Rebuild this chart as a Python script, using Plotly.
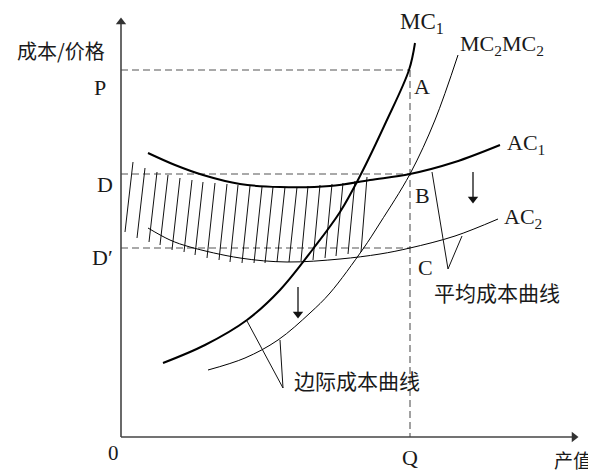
import plotly.graph_objects as go

# ---- data (units measured from the origin; x = output, y = cost/price) ----
Q_VAL = 289
P_VAL = 367
D_VAL = 263
D2_VAL = 189

mc1_x = [42, 84, 126, 159, 192, 219, 239, 265, 288, 294]
mc1_y = [74, 92, 117, 147, 188, 225, 261, 315, 367, 394]

mc2_x = [87, 124, 157, 189, 209, 242, 259, 289, 314, 337]
mc2_y = [67, 79, 97, 124, 144, 188, 214, 263, 317, 382]

ac1_x = [27, 54, 82, 119, 159, 209, 249, 289, 334, 379]
ac1_y = [284, 272, 262, 253, 250, 251, 257, 263, 275, 292]

ac2_x = [27, 49, 69, 119, 166, 219, 259, 289, 334, 377]
ac2_y = [209, 197, 190, 179, 175, 178, 183, 189, 201, 218]

hatch_top_x = [12, 24, 36, 47, 59, 71, 82, 94, 106, 117, 129, 141, 152, 164, 176, 187, 199, 211, 222, 234, 246]
hatch_top_y = [275, 269, 265, 262, 259, 257, 255, 254, 253, 252, 251, 250, 250, 250, 250, 251, 252, 253, 254, 256, 260]
hatch_bot_x = [4, 16, 28, 39, 51, 63, 74, 86, 98, 109, 121, 133, 144, 156, 168, 180, 192, 204, 215, 227, 240]
hatch_bot_y = [205, 199, 195, 192, 187, 185, 182, 179, 177, 175, 174, 174, 174, 175, 175, 176, 177, 179, 181, 183, 185]

avg_pointer_x = [311, 327, 341]
avg_pointer_y = [265, 168, 201]
mar_pointer_x = [126, 162, 159]
mar_pointer_y = [116, 49, 97]

ac_shift_x = 352
ac_shift_y = [265, 234]
mc_shift_x = 177
mc_shift_y = [150, 119]

X_MAX = 457
Y_MAX = 419

SERIF = "Liberation Serif"
CJK = "Noto Sans CJK SC"
INK = "#1a1a1a"

fig = go.Figure()

def line(xs, ys, width, color="black", dash=None, shape="linear"):
    fig.add_trace(go.Scatter(
        x=xs, y=ys, mode="lines", hoverinfo="skip", showlegend=False,
        line=dict(color=color, width=width, dash=dash, shape=shape)))

def head(x, y, symbol, size, color):
    fig.add_trace(go.Scatter(
        x=[x], y=[y], mode="markers", hoverinfo="skip", showlegend=False,
        marker=dict(symbol=symbol, size=size, color=color, line=dict(width=0))))

# dashed guides
DASH = "7px,4px"
line([0, Q_VAL], [P_VAL, P_VAL], 1.1, "#555555", DASH)
line([Q_VAL, Q_VAL], [P_VAL, 0], 1.1, "#555555", DASH)
line([0, Q_VAL], [D_VAL, D_VAL], 1.1, "#555555", DASH)
line([0, Q_VAL], [D2_VAL, D2_VAL], 1.1, "#555555", DASH)

# hatching
hx, hy = [], []
for tx, ty, bx, by in zip(hatch_top_x, hatch_top_y, hatch_bot_x, hatch_bot_y):
    hx += [tx, bx, None]
    hy += [ty, by, None]
line(hx, hy, 1.0, "#111111")

# curves
line(mc1_x, mc1_y, 2.0, "black", shape="spline")
line(mc2_x, mc2_y, 1.0, "black", shape="spline")
line(ac1_x, ac1_y, 2.0, "black", shape="spline")
line(ac2_x, ac2_y, 1.0, "black", shape="spline")

# pointer lines
line(avg_pointer_x, avg_pointer_y, 1.0, "#111111")
line(mar_pointer_x, mar_pointer_y, 1.0, "#111111")

# axes with arrow heads
line([0, 0], [0, Y_MAX - 6], 1.6, "#444444")
line([0, X_MAX - 6], [0, 0], 1.6, "#444444")
head(0, Y_MAX - 4, "triangle-up", 9, "#333333")
head(X_MAX - 4, 0, "triangle-right", 9, "#333333")

# shift arrows
line([ac_shift_x, ac_shift_x], [ac_shift_y[0], ac_shift_y[1] + 6], 1.3, "#111111")
head(ac_shift_x, ac_shift_y[1] + 4, "triangle-down", 9, "#111111")
line([mc_shift_x, mc_shift_x], [mc_shift_y[0], mc_shift_y[1] + 6], 1.3, "#111111")
head(mc_shift_x, mc_shift_y[1] + 4, "triangle-down", 9, "#111111")

ann = []

def text(x, y, s, size, family=SERIF, xanchor="center"):
    ann.append(dict(x=x, y=y, xref="x", yref="y", text=s, showarrow=False,
                    xanchor=xanchor, yanchor="middle",
                    font=dict(family=family, size=size, color=INK)))

text(-60, 387, "成本/价格", 20, CJK)
text(-21, 350, "P", 22)
text(-16, 253, "D", 22)
text(-19, 180, "D′", 22)
text(-8, -16, "0", 21)
text(289, -20, "Q", 22)
text(452, -22, "产值", 19, CJK)
text(277, 414, "MC<sub>1</sub>", 23, xanchor="left")
text(337, 392, "MC<sub>2</sub>MC<sub>2</sub>", 22, xanchor="left")
text(301, 351, "A", 22)
text(301, 242, "B", 22)
text(304, 170, "C", 22)
text(384, 293, "AC<sub>1</sub>", 22, xanchor="left")
text(381, 219, "AC<sub>2</sub>", 22, xanchor="left")
text(311, 145, "平均成本曲线", 21, CJK, xanchor="left")
text(171, 57, "边际成本曲线", 21, CJK, xanchor="left")

# The page body has an 8px margin, so the figure is 8px smaller than the window
fig.update_layout(
    width=588, height=464, autosize=False,
    margin=dict(l=0, r=0, t=0, b=0),
    paper_bgcolor="white", plot_bgcolor="white",
    xaxis=dict(range=[-113, 475], visible=False, fixedrange=True),
    yaxis=dict(range=[-35, 429], visible=False, fixedrange=True),
    annotations=ann,
)

fig.write_html("out.html")
